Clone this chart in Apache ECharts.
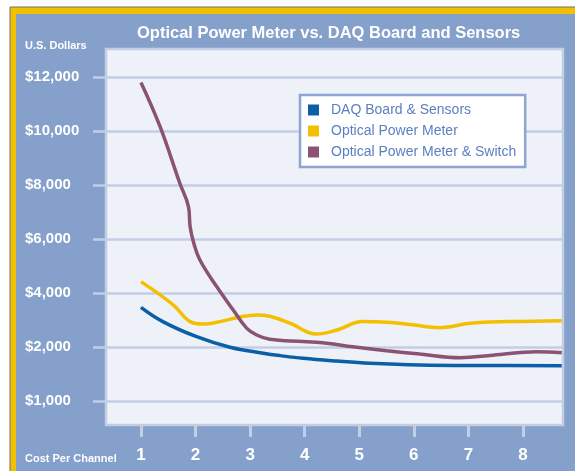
<!DOCTYPE html>
<html>
<head>
<meta charset="utf-8">
<script src="https://cdn.jsdelivr.net/npm/echarts@6/dist/echarts.min.js"></script>
<style>html,body{margin:0;padding:0;background:#fff;}#c{width:575px;height:471px;}</style>
</head>
<body>
<div id="c"></div>
<script>
// ---- data ----
const titleText = 'Optical Power Meter vs. DAQ Board and Sensors';
const seriesNames = ['DAQ Board & Sensors', 'Optical Power Meter', 'Optical Power Meter & Switch'];
const xTickValues = [1, 2, 3, 4, 5, 6, 7, 8];
const yTickValues = [0, 2000, 4000, 6000, 8000, 10000, 12000];
const yTickLabels = ['$1,000', '$2,000', '$4,000', '$6,000', '$8,000', '$10,000', '$12,000'];

const daqX   = [1.0, 1.4, 2.02, 2.63, 3.24, 3.55, 3.97, 4.59, 5.2, 6.11, 7.2, 8.71];
const daqY   = [3470, 2940, 2380, 1990, 1770, 1680, 1580, 1480, 1400, 1335, 1315, 1310];

const opmX   = [1.0, 1.59, 1.9, 2.14, 2.45, 2.81, 3.12, 3.36, 3.73, 4.22, 4.59, 5.07, 5.5, 5.93, 6.48, 7.03, 7.76, 8.71];
const opmY   = [4420, 3560, 2940, 2850, 2940, 3110, 3185, 3140, 2880, 2480, 2630, 2940, 2915, 2835, 2715, 2880, 2940, 2975];

const opmsX  = [1.0, 1.35, 1.71, 1.87, 1.9, 1.96, 2.08, 2.39, 2.69, 2.94, 3.12, 3.36, 3.97, 4.4, 4.88, 5.5, 6.11, 6.85, 7.45, 8.25, 8.71];
const opmsY  = [11800, 10160, 8075, 7200, 6460, 5900, 5220, 4230, 3370, 2690, 2445, 2285, 2200, 2140, 2010, 1865, 1740, 1605, 1695, 1825, 1790];

const colors = ['#0b5fa7', '#f4bf00', '#8b5372'];
const gridColor = '#c3cee6';
const panelColor = '#84a0cb';
const sans = '"Liberation Sans", Arial, sans-serif';

function pairs(xs, ys) { return xs.map((x, i) => [x, ys[i]]); }

const chart = echarts.init(document.getElementById('c'), null, {renderer: 'canvas'});
chart.setOption({
  backgroundColor: '#ffffff',
  animation: false,
  graphic: [
    {type: 'rect', z: -100, shape: {x: 10, y: 7, width: 570, height: 470}, style: {fill: '#f1c000', stroke: '#707070', lineWidth: 1}},
    {type: 'rect', z: -99, shape: {x: 16, y: 14, width: 565, height: 465}, style: {fill: panelColor}},
    {type: 'text', z: 10, left: 25, top: 40, style: {text: 'U.S. Dollars', fill: '#ffffff', font: 'bold 11px ' + sans}},
    {type: 'text', z: 10, left: 25, top: 453, style: {text: 'Cost Per Channel', fill: '#ffffff', font: 'bold 11px ' + sans}}
  ],
  title: {
    text: titleText,
    left: 137, top: 25, padding: 0,
    textStyle: {color: '#ffffff', fontFamily: sans, fontWeight: 'bold', fontSize: 16.5}
  },
  legend: {
    data: seriesNames,
    orient: 'vertical',
    left: 300, top: 95,
    backgroundColor: '#ffffff',
    borderColor: '#8da5d0', borderWidth: 2.5,
    padding: [8, 9, 8, 8],
    itemWidth: 11, itemHeight: 11, itemGap: 7,
    icon: 'rect',
    textStyle: {color: '#5b80c2', fontSize: 14, fontFamily: sans, padding: [0, 0, 0, 7]}
  },
  grid: {
    left: 106, right: 12, top: 49, bottom: 46,
    show: true, backgroundColor: '#eef2f8', borderColor: gridColor, borderWidth: 2.5
  },
  xAxis: {
    type: 'value', min: 0.359, max: 8.733,
    axisLine: {show: false, onZero: false},
    splitLine: {show: false},
    axisTick: {show: true, customValues: xTickValues, length: 12, lineStyle: {color: gridColor, width: 3}},
    axisLabel: {customValues: xTickValues, margin: 22, color: '#ffffff', fontFamily: sans, fontWeight: 'bold', fontSize: 17}
  },
  yAxis: {
    type: 'value', min: -889, max: 13037,
    axisLine: {show: false, onZero: false},
    axisTick: {show: true, customValues: yTickValues, length: 13, lineStyle: {color: gridColor, width: 2.5}},
    splitLine: {show: true, lineStyle: {color: gridColor, width: 2.5}},
    axisLabel: {
      customValues: yTickValues, align: 'left', margin: 81,
      color: '#ffffff', fontFamily: sans, fontWeight: 'bold', fontSize: 15,
      formatter: v => yTickLabels[yTickValues.indexOf(v)]
    }
  },
  series: [
    {name: seriesNames[0], type: 'line', data: pairs(daqX, daqY), smooth: 0.4, showSymbol: false, lineStyle: {color: colors[0], width: 3.5}, itemStyle: {color: colors[0]}},
    {name: seriesNames[1], type: 'line', data: pairs(opmX, opmY), smooth: 0.4, showSymbol: false, lineStyle: {color: colors[1], width: 3.5}, itemStyle: {color: colors[1]}},
    {name: seriesNames[2], type: 'line', data: pairs(opmsX, opmsY), smooth: 0.4, showSymbol: false, lineStyle: {color: colors[2], width: 3.5}, itemStyle: {color: colors[2]}}
  ]
});
</script>
</body>
</html>
